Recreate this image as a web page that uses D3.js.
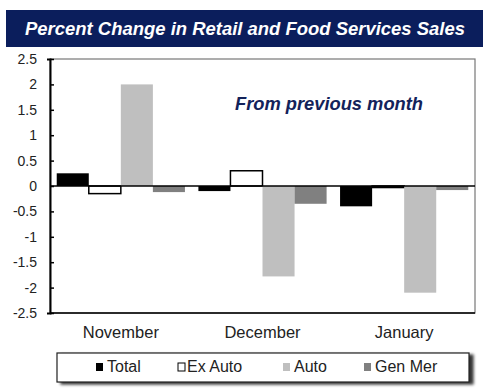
<!DOCTYPE html>
<html>
<head>
<meta charset="utf-8">
<script src="https://cdn.jsdelivr.net/npm/d3@7"></script>
<style>
  body { margin: 0; background: #fff; }
  svg { display: block; font-family: Arial, "Liberation Sans", sans-serif; }
</style>
</head>
<body>
<svg id="chart" width="492" height="389"></svg>
<script>
/* Chart data */
var months = ["November", "December", "January"];
var seriesNames = ["Total", "Ex Auto", "Auto", "Gen Mer"];
var totalVals = [0.25, -0.1, -0.4];
var exAutoVals = [-0.15, 0.3, -0.03];
var autoVals = [2.0, -1.78, -2.1];
var genMerVals = [-0.12, -0.35, -0.08];
var yTicks = [2.5, 2, 1.5, 1, 0.5, 0, -0.5, -1, -1.5, -2, -2.5];

var seriesVals = [totalVals, exAutoVals, autoVals, genMerVals];
var fills = ["#000000", "#ffffff", "#bfbfbf", "#808080"];

var svg = d3.select("#chart");

// Title banner
svg.append("rect")
  .attr("x", 6).attr("y", 10).attr("width", 477).attr("height", 37)
  .attr("fill", "#0b1e5c");
svg.append("text")
  .attr("x", 245).attr("y", 35)
  .attr("text-anchor", "middle")
  .attr("fill", "#ffffff")
  .attr("font-size", 18).attr("font-weight", "bold").attr("font-style", "italic")
  .attr("textLength", 440).attr("lengthAdjust", "spacingAndGlyphs")
  .text("Percent Change in Retail and Food Services Sales");

// Scales
var plotLeft = 50, plotRight = 475, plotTop = 59, plotBottom = 313;
var x0 = d3.scaleBand().domain(months).range([plotLeft, plotRight]);
var x1 = d3.scaleBand().domain(seriesNames).range([0, x0.bandwidth()])
  .paddingInner(0).paddingOuter(0.21);
var y = d3.scaleLinear().domain([-2.5, 2.5]).range([plotBottom, plotTop]);

// Plot border (top/right thin grey)
svg.append("rect")
  .attr("x", plotLeft).attr("y", plotTop)
  .attr("width", plotRight - plotLeft).attr("height", plotBottom - plotTop)
  .attr("fill", "none").attr("stroke", "#777").attr("stroke-width", 1.2);

// Bars
var rows = [];
seriesNames.forEach(function (s, si) {
  months.forEach(function (m, mi) {
    rows.push({ series: s, month: m, value: seriesVals[si][mi], fill: fills[si] });
  });
});

svg.append("g").selectAll("rect").data(rows).enter().append("rect")
  .attr("x", function (d) { return x0(d.month) + x1(d.series); })
  .attr("y", function (d) { return y(Math.max(0, d.value)); })
  .attr("width", x1.bandwidth())
  .attr("height", function (d) { return Math.abs(y(d.value) - y(0)); })
  .attr("fill", function (d) { return d.fill; })
  .attr("stroke", function (d) { return d.series === "Ex Auto" ? "#000" : "none"; })
  .attr("stroke-width", 1.5);

// Zero line
svg.append("line")
  .attr("x1", plotLeft).attr("x2", plotRight)
  .attr("y1", y(0)).attr("y2", y(0))
  .attr("stroke", "#000").attr("stroke-width", 1.5);

// Bottom line
svg.append("line")
  .attr("x1", plotLeft).attr("x2", plotRight)
  .attr("y1", plotBottom).attr("y2", plotBottom)
  .attr("stroke", "#000").attr("stroke-width", 1.5);

// Y axis
var yAxis = svg.append("g")
  .attr("transform", "translate(" + plotLeft + ",0)")
  .call(d3.axisLeft(y).tickValues(yTicks).tickSize(3).tickPadding(10)
    .tickFormat(function (d) { return String(d); }));
yAxis.select(".domain").attr("stroke", "#000").attr("stroke-width", 2);
yAxis.selectAll(".tick line").attr("x2", 4).attr("stroke", "#000").attr("stroke-width", 1.5);
yAxis.selectAll(".tick text")
  .attr("font-size", 14).attr("fill", "#222")
  .attr("font-family", "Arial, 'Liberation Sans', sans-serif");

// Month labels
svg.append("g").selectAll("text").data(months).enter().append("text")
  .attr("x", function (m) { return x0(m) + x0.bandwidth() / 2; })
  .attr("y", 338)
  .attr("text-anchor", "middle")
  .attr("font-size", 16.5).attr("fill", "#222")
  .text(function (m) { return m; });

// Annotation
svg.append("text")
  .attr("x", 329).attr("y", 110)
  .attr("text-anchor", "middle")
  .attr("fill", "#13225a")
  .attr("font-size", 18).attr("font-weight", "bold").attr("font-style", "italic")
  .attr("textLength", 188).attr("lengthAdjust", "spacingAndGlyphs")
  .text("From previous month");

// Legend
var defs = svg.append("defs");
var filt = defs.append("filter").attr("id", "shadow")
  .attr("x", "-5%").attr("y", "-20%").attr("width", "115%").attr("height", "160%");
filt.append("feGaussianBlur").attr("in", "SourceAlpha").attr("stdDeviation", 1.5);
filt.append("feOffset").attr("dx", 4).attr("dy", 2).attr("result", "blur");
filt.append("feComponentTransfer").append("feFuncA").attr("type", "linear").attr("slope", 0.8);
var merge = filt.append("feMerge");
merge.append("feMergeNode");
merge.append("feMergeNode").attr("in", "SourceGraphic");

svg.append("rect")
  .attr("x", 57).attr("y", 353).attr("width", 412).attr("height", 29)
  .attr("fill", "#fff").attr("stroke", "#222").attr("stroke-width", 1.2)
  .attr("filter", "url(#shadow)");

var legendX = [96, 178, 283, 364];
var legend = svg.append("g").selectAll("g").data(seriesNames).enter().append("g")
  .attr("transform", function (d, i) { return "translate(" + legendX[i] + ",0)"; });
legend.append("rect")
  .attr("x", 0).attr("y", 363).attr("width", 7).attr("height", 8)
  .attr("fill", function (d, i) { return fills[i]; })
  .attr("stroke", function (d) { return d === "Ex Auto" ? "#000" : "none"; })
  .attr("stroke-width", 1);
legend.append("text")
  .attr("x", function (d) { return d === "Ex Auto" ? 9 : 11; })
  .attr("y", 372)
  .attr("font-size", 16).attr("fill", "#222")
  .text(function (d) { return d; });
</script>
</body>
</html>
